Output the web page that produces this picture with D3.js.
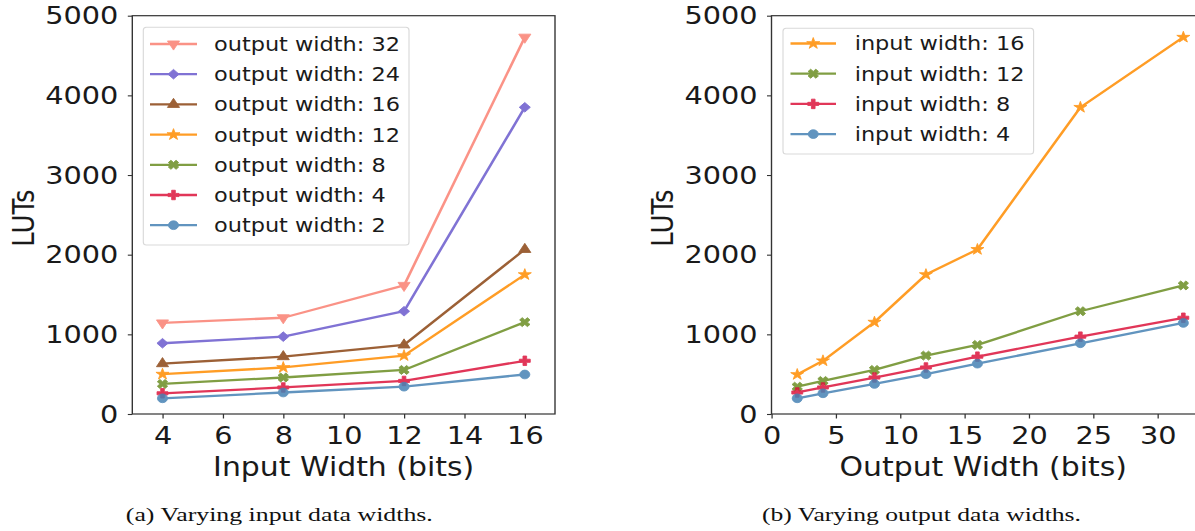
<!DOCTYPE html>
<html>
<head>
<meta charset="utf-8">
<script src="https://cdn.jsdelivr.net/npm/d3@7/dist/d3.min.js"></script>
<style>
  html, body { margin: 0; padding: 0; background: #fff; }
  svg { display: block; }
</style>
</head>
<body>
<svg id="chart" width="1195" height="531"></svg>
<script>
// ---------------- data ----------------
const inputWidths = [4, 8, 12, 16];
const outputWidths = [2, 4, 8, 12, 16, 24, 32];
// LUTs per output width, across input widths 4, 8, 12, 16
const lutsOut2  = [197, 270, 343, 496];
const lutsOut4  = [260, 333, 415, 668];
const lutsOut8  = [377, 458, 553, 1153];
const lutsOut12 = [500, 584, 733, 1750];
const lutsOut16 = [632, 720, 867, 2066];
const lutsOut24 = [888, 971, 1290, 3850];
const lutsOut32 = [1143, 1208, 1614, 4730];
const yTickValues = [0, 1000, 2000, 3000, 4000, 5000];
const xTicksLeft = [4, 6, 8, 10, 12, 14, 16];
const xTicksRight = [0, 5, 10, 15, 20, 25, 30];
const leftLegendOrder = [32, 24, 16, 12, 8, 4, 2];
const rightLegendOrder = [16, 12, 8, 4];
const xLabelLeft = "Input Width (bits)";
const xLabelRight = "Output Width (bits)";
const yLabel = "LUTs";
const captionLeft = "(a) Varying input data widths.";
const captionRight = "(b) Varying output data widths.";

const lutsByOutput = {2: lutsOut2, 4: lutsOut4, 8: lutsOut8, 12: lutsOut12, 16: lutsOut16, 24: lutsOut24, 32: lutsOut32};

// ---------------- styles ----------------
const S = 1.15; // horizontal stretch of the reference picture
const u = px => px / S;
const FONT = "DejaVu Sans";
const colorByOutput = {32: "#fa8072", 24: "#6a5acd", 16: "#8b4513", 12: "#ff8c00", 8: "#6b8e23", 4: "#dc143c", 2: "#4682b4"};
const symByOutput = {32: "tdown", 24: "diamond", 16: "tup", 12: "star", 8: "x", 4: "plus", 2: "circle"};
const colorByInput = {16: "#ff8c00", 12: "#6b8e23", 8: "#dc143c", 4: "#4682b4"};
const symByInput = {16: "star", 12: "x", 8: "plus", 4: "circle"};

function symbolPath(kind) {
  switch (kind) {
    case "circle": return {d: d3.symbol(d3.symbolCircle, 60)(), rot: 0};
    case "tdown": return {d: d3.symbol(d3.symbolTriangle, 48)(), rot: 180};
    case "tup": return {d: d3.symbol(d3.symbolTriangle, 48)(), rot: 0};
    case "diamond": return {d: d3.symbol(d3.symbolSquare, 46)(), rot: 45};
    case "star": return {d: d3.symbol(d3.symbolStar, 40)(), rot: 0};
    case "plus": return {d: d3.symbol(d3.symbolCross, 50)(), rot: 0};
    case "x": return {d: d3.symbol(d3.symbolCross, 50)(), rot: 45};
  }
}

const svg = d3.select("#chart");
const root = svg.append("g").attr("transform", `scale(${S},1)`);

const yTop = 15.7, yBot = 414;

function drawPanel(cfg) {
  const x = d3.scaleLinear().domain(cfg.xDomain).range([u(cfg.x0), u(cfg.x1)]);
  const y = d3.scaleLinear().domain([0, 5000]).range([yBot, yTop]);
  const g = root.append("g");

  const line = d3.line().x(d => x(d[0])).y(d => y(d[1]));
  cfg.series.forEach(s => {
    const pts = s.xs.map((xv, i) => [xv, s.ys[i]]);
    const sg = g.append("g").attr("opacity", 0.85);
    sg.append("path").attr("d", line(pts)).attr("fill", "none")
      .attr("stroke", s.color).attr("stroke-width", 2.3).attr("stroke-linejoin", "round");
    const sp = symbolPath(s.sym);
    sg.selectAll("path.m").data(pts).join("path").attr("class", "m")
      .attr("d", sp.d)
      .attr("transform", d => `translate(${x(d[0])},${y(d[1])}) rotate(${sp.rot})`)
      .attr("fill", s.color).attr("stroke", s.color).attr("stroke-width", 0.8);
  });

  // axes
  const xa = g.append("g").attr("transform", `translate(0,${yBot})`)
    .call(d3.axisBottom(x).tickValues(cfg.xTicks).tickFormat(d3.format("d"))
      .tickSize(4.5).tickPadding(8).tickSizeOuter(0));
  const ya = g.append("g").attr("transform", `translate(${u(cfg.x0)},0)`)
    .call(d3.axisLeft(y).tickValues(yTickValues).tickFormat(d3.format("d"))
      .tickSize(u(4.5)).tickPadding(u(9.4)).tickSizeOuter(0));
  [xa, ya].forEach(a => {
    a.select(".domain").remove();
    a.selectAll("line").attr("stroke", "#333").attr("stroke-width", 1.1);
    a.selectAll("text").attr("font-family", FONT).attr("font-size", 25).attr("fill", "#1a1a1a");
  });

  // spines
  g.append("rect").attr("x", u(cfg.x0)).attr("y", yTop)
    .attr("width", u(cfg.x1) - u(cfg.x0)).attr("height", yBot - yTop)
    .attr("fill", "none").attr("stroke", "#333").attr("stroke-width", 1.2);

  // labels
  g.append("text").attr("x", u((cfg.x0 + Math.min(cfg.x1, 1195)) / 2)).attr("y", 476)
    .attr("text-anchor", "middle").attr("font-family", FONT).attr("font-size", 26)
    .attr("fill", "#1a1a1a").text(cfg.xLabel);
  g.append("text").attr("transform", `translate(${u(cfg.yLabelX)},218) rotate(-90)`)
    .attr("text-anchor", "middle").attr("font-family", FONT).attr("font-size", 26)
    .attr("fill", "#1a1a1a").text(yLabel);

  // legend
  const L = cfg.legend;
  g.append("rect").attr("x", u(L.x0)).attr("y", L.y0)
    .attr("width", u(L.x1 - L.x0)).attr("height", L.y1 - L.y0)
    .attr("rx", u(3)).attr("ry", 3)
    .attr("fill", "#fff").attr("fill-opacity", 0.8).attr("stroke", "#d9d9d9").attr("stroke-width", 1);
  L.items.forEach((it, i) => {
    const cy = L.rowY0 + i * 30.2;
    const ig = g.append("g").attr("opacity", 0.85);
    ig.append("line").attr("x1", u(L.lx0)).attr("x2", u(L.lx1)).attr("y1", cy).attr("y2", cy)
      .attr("stroke", it.color).attr("stroke-width", 2.3);
    const sp = symbolPath(it.sym);
    ig.append("path").attr("d", sp.d)
      .attr("transform", `translate(${u((L.lx0 + L.lx1) / 2)},${cy}) rotate(${sp.rot})`)
      .attr("fill", it.color).attr("stroke", it.color).attr("stroke-width", 0.8);
    g.append("text").attr("x", u(L.tx)).attr("y", cy + 7)
      .attr("font-family", FONT).attr("font-size", 19.5).attr("fill", "#1a1a1a").text(it.label);
  });
}

// left panel: x = input width, one series per output width
drawPanel({
  x0: 132.3, x1: 555, xDomain: [3, 17], xTicks: xTicksLeft,
  xLabel: xLabelLeft, yLabelX: 34,
  series: leftLegendOrder.map(o => ({xs: inputWidths, ys: lutsByOutput[o], color: colorByOutput[o], sym: symByOutput[o]})),
  legend: {x0: 143.3, x1: 409, y0: 27.3, y1: 245, lx0: 150, lx1: 197, tx: 214, rowY0: 44,
    items: leftLegendOrder.map(o => ({label: "output width: " + o, color: colorByOutput[o], sym: symByOutput[o]}))}
});

// right panel: x = output width, one series per input width
drawPanel({
  x0: 771.5, x1: 771.5 + 33 * 12.87, xDomain: [0, 33], xTicks: xTicksRight,
  xLabel: xLabelRight, yLabelX: 673,
  series: rightLegendOrder.map(iw => {
    const k = inputWidths.indexOf(iw);
    return {xs: outputWidths, ys: outputWidths.map(o => lutsByOutput[o][k]), color: colorByInput[iw], sym: symByInput[iw]};
  }),
  legend: {x0: 783, x1: 1033.6, y0: 28.3, y1: 154, lx0: 790.5, lx1: 836, tx: 854.7, rowY0: 43.5,
    items: rightLegendOrder.map(iw => ({label: "input width: " + iw, color: colorByInput[iw], sym: symByInput[iw]}))}
});

// captions
root.append("text").attr("x", u(125.8)).attr("y", 521.3)
  .attr("font-family", "Liberation Serif").attr("font-size", 19)
  .attr("textLength", u(307)).attr("lengthAdjust", "spacingAndGlyphs")
  .attr("fill", "#111").text(captionLeft);
root.append("text").attr("x", u(762)).attr("y", 521.3)
  .attr("font-family", "Liberation Serif").attr("font-size", 19)
  .attr("textLength", u(319)).attr("lengthAdjust", "spacingAndGlyphs")
  .attr("fill", "#111").text(captionRight);
</script>
</body>
</html>
